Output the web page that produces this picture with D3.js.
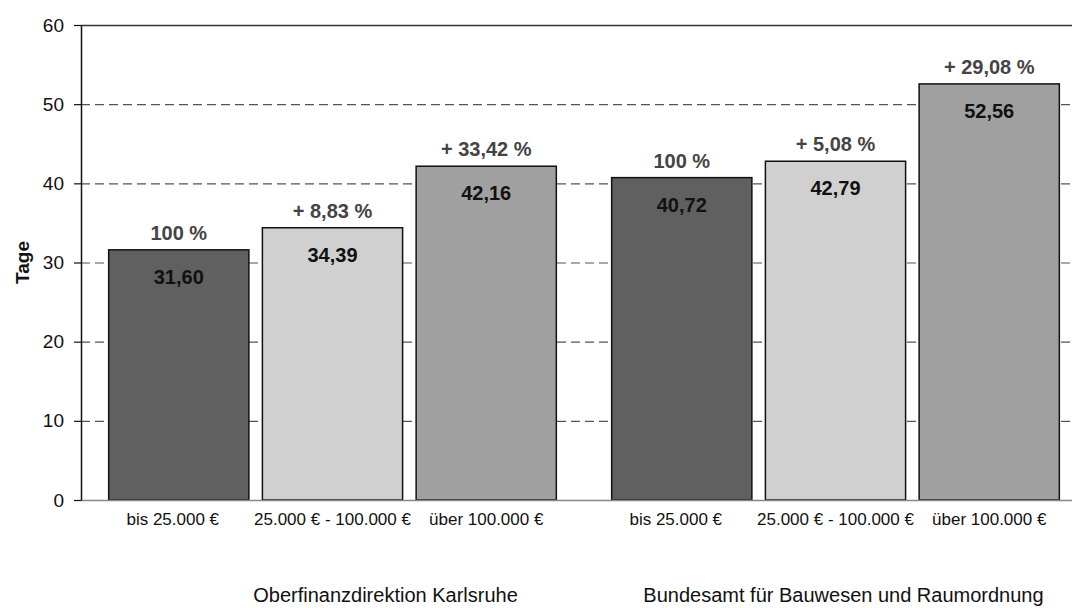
<!DOCTYPE html>
<html><head><meta charset="utf-8">
<script src="https://cdn.jsdelivr.net/npm/d3@7"></script>
<style>html,body{margin:0;padding:0;background:#fff;}svg{display:block;font-family:Arial,"Liberation Sans",sans-serif;}</style>
</head><body>
<svg id="chart" width="1072" height="608"></svg>
<script>
const groups = ["Oberfinanzdirektion Karlsruhe", "Bundesamt für Bauwesen und Raumordnung"];
const categories = ["bis 25.000 €", "25.000 € - 100.000 €", "über 100.000 €"];
const valuesOFD = [31.60, 34.39, 42.16];
const valuesBBR = [40.72, 42.79, 52.56];
const pctOFD = ["100 %", "+ 8,83 %", "+ 33,42 %"];
const pctBBR = ["100 %", "+ 5,08 %", "+ 29,08 %"];
const yTicks = [0, 10, 20, 30, 40, 50, 60];
const yTitle = "Tage";
const colors = ["#606060", "#d0d0d0", "#a0a0a0"];

(function () {
const seriesValues = [valuesOFD, valuesBBR];
const seriesPct = [pctOFD, pctBBR];
const data = [];
groups.forEach((g, gi) => categories.forEach((c, ci) => data.push({g, c, ci, v: seriesValues[gi][ci], p: seriesPct[gi][ci]})));

const svg = d3.select("#chart");
const mLeft = 81, mTop = 25, mBottom = 500, mRight = 1087;
const y = d3.scaleLinear().domain([0, 60]).range([mBottom, mTop]);
const x0 = d3.scaleBand().domain(groups).range([mLeft, mRight]);
const x1 = d3.scaleBand().domain(categories).range([0, x0.bandwidth()]).paddingInner(0.088).paddingOuter(0.18);
const fmt = v => d3.format(".2f")(v).replace(".", ",");

// gridlines
svg.append("g").selectAll("line").data(yTicks.filter(t => t > 0 && t < 60)).join("line")
  .attr("x1", mLeft).attr("x2", 1072).attr("y1", d => y(d) + 0.5).attr("y2", d => y(d) + 0.5)
  .attr("stroke", "#555").attr("stroke-width", 1.2).attr("stroke-dasharray", "9,5");
// top border
svg.append("line").attr("x1", mLeft).attr("x2", 1072).attr("y1", y(60) + 0.5).attr("y2", y(60) + 0.5)
  .attr("stroke", "#333").attr("stroke-width", 1.3);

// bars
svg.append("g").selectAll("rect").data(data).join("rect")
  .attr("x", d => x0(d.g) + x1(d.c)).attr("width", x1.bandwidth())
  .attr("y", d => y(d.v)).attr("height", d => y(0) - y(d.v))
  .attr("fill", d => colors[d.ci]).attr("stroke", "#111").attr("stroke-width", 1.5);

// bottom axis line
svg.append("line").attr("x1", mLeft).attr("x2", 1072).attr("y1", y(0) + 0.5).attr("y2", y(0) + 0.5)
  .attr("stroke", "#888").attr("stroke-width", 1.5);

// y axis
const yAxis = d3.axisLeft(y).tickValues(yTicks).tickSize(7).tickPadding(10).tickSizeOuter(0);
const ya = svg.append("g").attr("transform", `translate(${mLeft},0)`).call(yAxis);
ya.select(".domain").attr("stroke", "#111").attr("stroke-width", 1.5);
ya.selectAll(".tick line").attr("stroke", "#111").attr("stroke-width", 1.2);
ya.selectAll(".tick text").attr("font-size", 19).attr("fill", "#111").attr("font-family", "Arial, 'Liberation Sans', sans-serif");

svg.append("text").attr("transform", `translate(29,${(mTop + mBottom) / 2}) rotate(-90)`)
  .attr("text-anchor", "middle").attr("font-weight", "bold").attr("font-size", 19).attr("fill", "#111").text(yTitle);

// value labels
const cx = d => x0(d.g) + x1(d.c) + x1.bandwidth() / 2;
svg.append("g").selectAll("text").data(data).join("text")
  .attr("x", cx).attr("y", d => y(d.v) + 34).attr("text-anchor", "middle")
  .attr("font-weight", "bold").attr("font-size", 20).attr("fill", "#111").text(d => fmt(d.v));
svg.append("g").selectAll("text").data(data).join("text")
  .attr("x", cx).attr("y", d => y(d.v) - 10).attr("text-anchor", "middle")
  .attr("font-weight", "bold").attr("font-size", 20).attr("fill", "#444").text(d => d.p);

// category labels
svg.append("g").selectAll("text").data(data).join("text")
  .attr("x", d => cx(d) - (d.ci === 0 ? 6 : 0)).attr("y", 525).attr("text-anchor", "middle")
  .attr("font-size", 17).attr("fill", "#111").text(d => d.c);

// group labels
const groupOffset = [53, 8];
svg.append("g").selectAll("text").data(groups).join("text")
  .attr("x", (d, i) => x0(d) + x0.bandwidth() / 2 + groupOffset[i]).attr("y", 602).attr("text-anchor", "middle")
  .attr("font-size", 20).attr("fill", "#111").text(d => d);
})();
</script>
</body></html>
